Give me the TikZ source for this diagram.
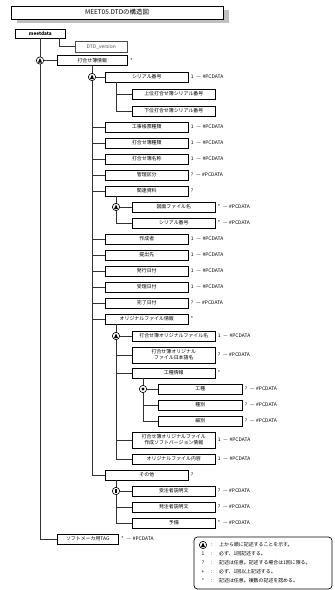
\documentclass[tikz,border=0pt]{standalone}
\usepackage{fontspec}
\setmainfont{Noto Sans CJK JP}
\usetikzlibrary{positioning,shadows}
\newcommand{\pcd}[1]{#1\hspace{2.5pt}—\hspace{1.5pt}\#PCDATA}
\tikzset{
  elem/.style={draw=black, line width=0.5pt, fill=white, anchor=west, inner sep=0pt,
    minimum width=2.49cm, minimum height=0.3cm, align=center,
    drop shadow={shadow xshift=0.7pt, shadow yshift=-0.7pt, opacity=1, fill=black!65}},
  card/.style={inner sep=0pt, anchor=west},
  link/.style={draw=black!80, line width=0.6pt},
  ringmark/.style={circle, draw=black, line width=0.5pt, fill=white, minimum size=0.22cm, inner sep=0pt},
  seqmark/.style={ringmark, path picture={\fill[black, rounded corners=0.4pt] ([yshift=2.1pt]path picture bounding box.center)
      -- ++(-1.8pt,-4pt) -- ++(3.6pt,0) -- cycle;}},
  dotmark/.style={ringmark, path picture={\fill[black] (path picture bounding box.center) circle (1.3pt);}},
  barmark/.style={ringmark, path picture={\fill[black] ([xshift=-1.2pt,yshift=-2pt]path picture bounding box.center) rectangle ++(2.4pt,4pt);}}
}
\begin{document}
\begin{tikzpicture}[x=0.03cm, y=-0.03cm, font=\fontsize{4.2}{5}\selectfont]
\useasboundingbox (0,0) rectangle (334,590);

% title
\node[draw, line width=0.6pt, fill=white, minimum width=6.36cm, minimum height=0.39cm, inner sep=0pt,
  drop shadow={shadow xshift=5pt, shadow yshift=-3.5pt, opacity=1, fill=black!25},
  font=\fontsize{5.5}{6}\selectfont] (title) at (117,12.5) {MEET05.DTDの構造図};

% root
\node[elem, minimum width=1.5cm, minimum height=0.27cm, font=\fontsize{4}{4.8}\bfseries] (meet) at (15,33.5) {meetdata};
\node[draw=black!70, line width=0.4pt, fill=white, anchor=west, inner sep=0pt,
  minimum width=1.56cm, minimum height=0.33cm, text=black!70] (dtd) at (75,46.5) {DTD\_version};
\draw[link] ([xshift=0.57cm]meet.south) |- (dtd.west);

% 打合せ簿情報
\node[elem, minimum width=2.1cm] (jyoho) at (57,60.5) {打合せ簿情報};
\node[card, right=0.08cm of jyoho] {*};
\node[elem] (serial) at (105,77) {シリアル番号};
\node[card, right=0.06cm of serial] {\pcd{1}};
\node[elem] (jou) at (132,94) {上位打合せ簿シリアル番号};
\node[elem] (kai) at (132,111) {下位打合せ簿シリアル番号};
\node[elem] (kouji) at (105,127) {工事帳票種類};
\node[card, right=0.06cm of kouji] {\pcd{1}};
\node[elem] (shurui) at (105,143) {打合せ簿種類};
\node[card, right=0.06cm of shurui] {\pcd{1}};
\node[elem] (meisho) at (105,159) {打合せ簿名称};
\node[card, right=0.06cm of meisho] {\pcd{1}};
\node[elem] (kanri) at (105,175) {管理区分};
\node[card, right=0.06cm of kanri] {\pcd{?}};
\node[elem] (kanren) at (105,191) {関連資料};
\node[card, right=0.06cm of kanren] {?};
\node[elem] (zumen) at (132,207) {図面ファイル名};
\node[card, right=0.06cm of zumen] {\pcd{*}};
\node[elem] (serial2) at (132,223) {シリアル番号};
\node[card, right=0.06cm of serial2] {\pcd{*}};
\node[elem] (sakusei) at (105,239) {作成者};
\node[card, right=0.06cm of sakusei] {\pcd{1}};
\node[elem] (teishutsu) at (105,255) {提出先};
\node[card, right=0.06cm of teishutsu] {\pcd{1}};
\node[elem] (hakko) at (105,271) {発行日付};
\node[card, right=0.06cm of hakko] {\pcd{1}};
\node[elem] (juri) at (105,287) {受理日付};
\node[card, right=0.06cm of juri] {\pcd{1}};
\node[elem] (kanryo) at (105,303) {完了日付};
\node[card, right=0.06cm of kanryo] {\pcd{?}};
\node[elem] (orig) at (105,319) {オリジナルファイル情報};
\node[card, right=0.06cm of orig] {*};
\node[elem] (ofile) at (132,336) {打合せ簿オリジナルファイル名};
\node[card, right=0.06cm of ofile] {\pcd{1}};
\node[elem, minimum height=0.48cm] (ojp) at (132,355) {打合せ簿オリジナル\\ファイル日本語名};
\node[card, right=0.06cm of ojp] {\pcd{?}};
\node[elem] (koshujoho) at (132,373) {工種情報};
\node[card, right=0.06cm of koshujoho] {*};
\node[elem, minimum width=2.52cm] (koshu) at (158,389) {工種};
\node[card, right=0.06cm of koshu] {\pcd{?}};
\node[elem, minimum width=2.52cm] (shubetsu) at (158,405) {種別};
\node[card, right=0.06cm of shubetsu] {\pcd{?}};
\node[elem, minimum width=2.52cm] (saibetsu) at (158,421) {細別};
\node[card, right=0.06cm of saibetsu] {\pcd{?}};
\node[elem, minimum height=0.48cm] (osoft) at (132,440) {打合せ簿オリジナルファイル\\作成ソフトバージョン情報};
\node[card, right=0.06cm of osoft] {\pcd{1}};
\node[elem] (onaiyo) at (132,459) {オリジナルファイル内容};
\node[card, right=0.06cm of onaiyo] {\pcd{1}};
\node[elem] (sonota) at (105,475) {その他};
\node[card, right=0.06cm of sonota] {?};
\node[elem] (juchu) at (132,491) {受注者説明文};
\node[card, right=0.06cm of juchu] {\pcd{?}};
\node[elem] (hatchu) at (132,507) {発注者説明文};
\node[card, right=0.06cm of hatchu] {\pcd{?}};
\node[elem] (yobi) at (132,523) {予備};
\node[card, right=0.06cm of yobi] {\pcd{*}};
\node[elem, minimum width=1.83cm] (tag) at (57,539) {ソフトメーカ用TAG};
\node[card, right=0.08cm of tag] {\pcd{*}};

% connectors
\draw[link] (meet.south) |- (tag.west);
\draw[link] (jyoho.south) |- (sonota.west);
\foreach \n in {kouji,shurui,meisho,kanri,kanren,sakusei,teishutsu,hakko,juri,kanryo,orig}
  \draw[link] (jyoho.south |- \n.west) -- (\n.west);
\draw[link] ([xshift=0.33cm]serial.south west) |- (kai.west);
\draw[link] ([xshift=0.33cm]serial.south west) |- (jou.west);
\draw[link] ([xshift=0.33cm]kanren.south west) |- (serial2.west);
\draw[link] ([xshift=0.33cm]orig.south west) |- (onaiyo.west);
\foreach \n in {ojp,koshujoho,osoft}
  \draw[link] ([xshift=0.33cm]orig.south west |- \n.west) -- (\n.west);
\draw[link] ([xshift=0.33cm]koshujoho.south west) |- (saibetsu.west);
\draw[link] ([xshift=0.33cm]koshujoho.south west |- shubetsu.west) -- (shubetsu.west);
\draw[link] ([xshift=0.33cm]sonota.south west) |- (yobi.west);
\draw[link] ([xshift=0.33cm]sonota.south west |- hatchu.west) -- (hatchu.west);

% marks
\node[seqmark] (m1) at (40,60.5) {};
\draw[link] (m1) -- (jyoho.west);
\node[seqmark] (m2) at (92,77) {};
\draw[link] (m2) -- (serial.west);
\node[seqmark] (m3) at (116,207) {};
\draw[link] (m3) -- (zumen.west);
\node[seqmark] (m4) at (116,336) {};
\draw[link] (m4) -- (ofile.west);
\node[dotmark] (m5) at (143,389) {};
\draw[link] (m5) -- (koshu.west);
\node[barmark] (m6) at (116,491) {};
\draw[link] (m6) -- (juchu.west);

% legend
\draw[line width=0.6pt, rounded corners=3pt] (194,537) rectangle (332,589);
\node[seqmark] (lseq) at (203,545) {};
\node[card] at (211,545) {:};
\node[card] at (219,545) {上から順に記述することを示す。};
\node (l1) at (203,554) {1};
\node[card] at (211,554) {:};
\node[card] at (219,554) {必ず、1回記述する。};
\node (l2) at (203,563) {?};
\node[card] at (211,563) {:};
\node[card] at (219,563) {記述は任意。記述する場合は1回に限る。};
\node (l3) at (203,572) {+};
\node[card] at (211,572) {:};
\node[card] at (219,572) {必ず、1回以上記述する。};
\node (l4) at (203,581) {*};
\node[card] at (211,581) {:};
\node[card] at (219,581) {記述は任意。複数の記述を認める。};
\end{tikzpicture}
\end{document}
